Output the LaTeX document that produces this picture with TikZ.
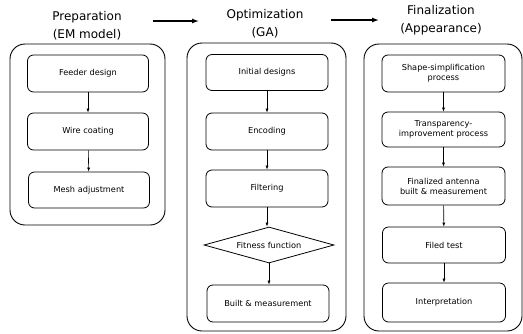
\documentclass[tikz,border=0pt]{standalone}
\usepackage{fontspec}
\setmainfont{DejaVu Sans}
\usetikzlibrary{shapes.geometric,arrows.meta}
\begin{document}
\begin{tikzpicture}[x=1pt,y=-1pt,
  container/.style={draw, line width=0.9pt, rounded corners=15pt, inner sep=0pt},
  stepbox/.style={draw, line width=0.8pt, rounded corners=6pt, inner sep=0pt, align=center, font=\fontsize{8.2}{10}\selectfont},
  decision/.style={draw, diamond, aspect=3.6, line width=0.8pt, inner sep=0pt, minimum width=130pt, minimum height=36pt, font=\fontsize{8.2}{10}\selectfont},
  title/.style={align=center, inner sep=0pt, font=\fontsize{12}{18}\selectfont},
  flow/.style={-{Latex[length=4pt,width=3pt]}, line width=0.6pt},
  bigflow/.style={-{Latex[length=7pt,width=5pt]}, line width=1.3pt}]
\useasboundingbox (0,0) rectangle (523,333);
% titles
\node[title] (t1) at (87,26) {Preparation\\(EM model)};
\node[title] (t2) at (265,23.5) {Optimization\\(GA)};
\node[title] (t3) at (441,20) {Finalization\\(Appearance)};
\coordinate (a1s) at (153,21);
\coordinate (a1e) at (199,21);
\coordinate (a2s) at (331,20);
\coordinate (a2e) at (379,20);
\draw[bigflow] (a1s) -- (a1e);
\draw[bigflow] (a2s) -- (a2e);
% containers
\node[container, minimum width=155pt, minimum height=181pt] (c1) at (87.5,134.5) {};
\node[container, minimum width=159pt, minimum height=288pt] (c2) at (266.5,187) {};
\node[container, minimum width=158pt, minimum height=287pt] (c3) at (443,187.5) {};
% column 1
\node[stepbox, minimum width=121pt, minimum height=37pt] (f1) at (88,73.5) {Feeder design};
\node[stepbox, minimum width=121pt, minimum height=37pt] (f2) at (88,131.5) {Wire coating};
\node[stepbox, minimum width=121pt, minimum height=36pt] (f3) at (89,190) {Mesh adjustment};
\draw[flow] (f1) -- (f2);
\draw[flow] (f2) -- (f3);
% column 2
\node[stepbox, minimum width=122pt, minimum height=36pt] (g1) at (267,72.5) {Initial designs};
\node[stepbox, minimum width=122pt, minimum height=37pt] (g2) at (267,131.5) {Encoding};
\node[stepbox, minimum width=122pt, minimum height=37pt] (g3) at (267,188.5) {Filtering};
\node[decision] (g4) at (269,245) {Fitness function};
\node[stepbox, minimum width=122pt, minimum height=37pt] (g5) at (268,303.5) {Built \& measurement};
\draw[flow] (g1) -- (g2);
\draw[flow] (g2) -- (g3);
\draw[flow] (g3.south) -- (g3.south |- g4.north);
\draw[flow] (g4.south) -- (g4.south |- g5.north);
% column 3
\node[stepbox, minimum width=123pt, minimum height=37pt] (h1) at (443.5,73.5) {Shape-simplification\\process};
\node[stepbox, minimum width=123pt, minimum height=35pt] (h2) at (443.5,129.5) {Transparency-\\improvement process};
\node[stepbox, minimum width=123pt, minimum height=38pt] (h3) at (443.5,186) {Finalized antenna\\built \& measurement};
\node[stepbox, minimum width=123pt, minimum height=36pt] (h4) at (444,245) {Filed test};
\node[stepbox, minimum width=123pt, minimum height=39pt] (h5) at (444,302.5) {Interpretation};
\draw[flow] (h1) -- (h2);
\draw[flow] (h2) -- (h3);
\draw[flow] (h3) -- (h4);
\draw[flow] (h4) -- (h5);
\end{tikzpicture}
\end{document}
